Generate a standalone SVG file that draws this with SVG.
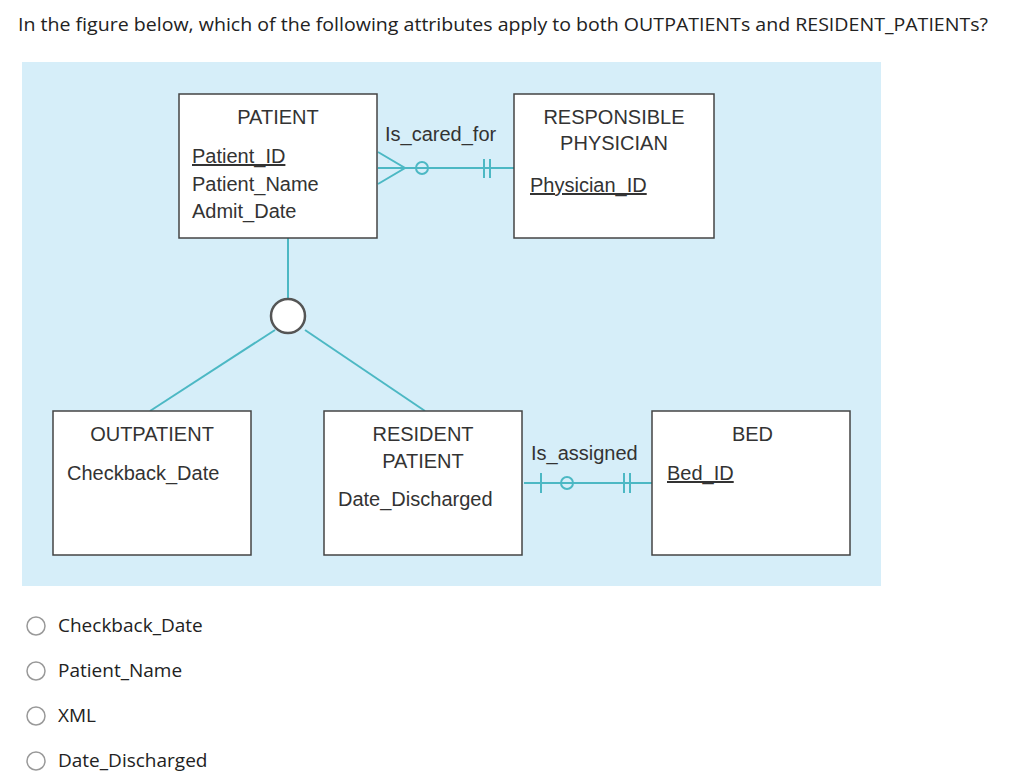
<svg xmlns="http://www.w3.org/2000/svg" width="1024" height="782" viewBox="0 0 1024 782">
<style>
.t{font-family:"Open Sans","Liberation Sans",sans-serif;fill:#222;font-size:19px}
.e{font-family:"Liberation Sans",Arial,sans-serif;fill:#333;font-size:20px}
.box{fill:#fff;stroke:#444;stroke-width:1.5}
.ln{stroke:#4cb8c4;stroke-width:2;fill:none}
.rad{fill:#fff;stroke:#999;stroke-width:1.5}
</style>
<rect width="1024" height="782" fill="#fff"/>
<text class="t" x="18" y="31" textLength="970" lengthAdjust="spacingAndGlyphs">In the figure below, which of the following attributes apply to both OUTPATIENTs and RESIDENT_PATIENTs?</text>
<rect x="22" y="62" width="859" height="524" fill="#d6eef9"/>
<g id="connectors">
<line class="ln" x1="288" y1="238" x2="288" y2="300"/>
<line class="ln" x1="275" y1="330" x2="150" y2="411"/>
<line class="ln" x1="305" y1="330" x2="425" y2="411"/>
<line class="ln" x1="378" y1="168" x2="514" y2="168"/>
<polyline class="ln" points="378,152 405,168 378,184"/>
<circle class="ln" cx="422" cy="168" r="6" fill="#d6eef9"/>
<line class="ln" x1="484" y1="159" x2="484" y2="178"/>
<line class="ln" x1="490" y1="159" x2="490" y2="178"/>
<line class="ln" x1="524" y1="483" x2="652" y2="483"/>
<line class="ln" x1="541" y1="473" x2="541" y2="493"/>
<circle class="ln" cx="567" cy="483" r="6" fill="#d6eef9"/>
<line class="ln" x1="624" y1="473" x2="624" y2="493"/>
<line class="ln" x1="630" y1="473" x2="630" y2="493"/>
</g>
<text class="e" x="385" y="141" font-size="19">Is_cared_for</text>
<text class="e" x="531" y="460" font-size="19">Is_assigned</text>
<g id="d">
<circle cx="288" cy="316" r="17" fill="#fff" stroke="#555" stroke-width="2.5"/>
</g>
<g id="patient">
<rect class="box" x="179" y="94" width="198" height="144"/>
<text class="e" x="278" y="124" text-anchor="middle">PATIENT</text>
<text class="e" x="192" y="163" text-decoration="underline">Patient_ID</text>
<text class="e" x="192" y="191">Patient_Name</text>
<text class="e" x="192" y="218">Admit_Date</text>
</g>
<g id="physician">
<rect class="box" x="514" y="94" width="200" height="144"/>
<text class="e" x="614" y="124" text-anchor="middle">RESPONSIBLE</text>
<text class="e" x="614" y="150" text-anchor="middle">PHYSICIAN</text>
<text class="e" x="530" y="192" text-decoration="underline">Physician_ID</text>
</g>
<g id="outpatient">
<rect class="box" x="53" y="411" width="198" height="144"/>
<text class="e" x="152" y="441" text-anchor="middle">OUTPATIENT</text>
<text class="e" x="67" y="480">Checkback_Date</text>
</g>
<g id="resident">
<rect class="box" x="324" y="411" width="198" height="144"/>
<text class="e" x="423" y="441" text-anchor="middle">RESIDENT</text>
<text class="e" x="423" y="468" text-anchor="middle">PATIENT</text>
<text class="e" x="338" y="506">Date_Discharged</text>
</g>
<g id="bed">
<rect class="box" x="652" y="411" width="198" height="144"/>
<text class="e" x="773" y="441" text-anchor="end">BED</text>
<text class="e" x="667" y="480" text-decoration="underline">Bed_ID</text>
</g>
<g id="options">
<circle class="rad" cx="36" cy="626" r="9"/><text class="t" x="58" y="632">Checkback_Date</text>
<circle class="rad" cx="36" cy="671" r="9"/><text class="t" x="58" y="677">Patient_Name</text>
<circle class="rad" cx="36" cy="716" r="9"/><text class="t" x="58" y="722">XML</text>
<circle class="rad" cx="36" cy="761" r="9"/><text class="t" x="58" y="767">Date_Discharged</text>
</g>
</svg>
